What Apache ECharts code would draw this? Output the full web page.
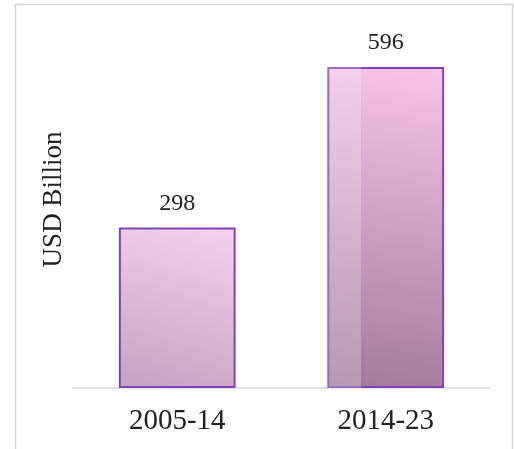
<!DOCTYPE html>
<html>
<head>
<meta charset="utf-8">
<script src="https://cdn.jsdelivr.net/npm/echarts@6/dist/echarts.min.js"></script>
<style>
  html, body { margin: 0; padding: 0; background: #fff; }
  #chart { width: 514px; height: 449px; }
</style>
</head>
<body>
<div id="chart"></div>
<script>
// data
var periods = ["2005-14", "2014-23"];
var investment = [298, 596];
var unitName = "USD Billion";

(function () {
    var myChart = echarts.init(document.getElementById("chart"));
    var serif = "'Liberation Serif', 'Times New Roman', serif";

    // bar bodies: light pink at top right, mauve at bottom left
    var barTop = ["#f3d0ec", "#f6c4e7"];
    var barBottom = ["#c9a3c3", "#a47b9a"];
    function barFill(i) {
        return new echarts.graphic.LinearGradient(0.7, 0, 0.3, 1, [
            { offset: 0, color: barTop[i] },
            { offset: 1, color: barBottom[i] }
        ]);
    }
    // lighter strip on the left of the second bar
    var stripFill = new echarts.graphic.LinearGradient(0, 0, 1, 0, [
        { offset: 0, color: "rgba(255,255,255,0.22)" },
        { offset: 0.29, color: "rgba(255,255,255,0.22)" },
        { offset: 0.29, color: "rgba(255,255,255,0)" },
        { offset: 1, color: "rgba(255,255,255,0)" }
    ]);

    var option = {
        backgroundColor: "#fff",
        animation: false,
        grid: {
            left: 73,
            right: 24,
            top: 11,
            bottom: 61,
            containLabel: false
        },
        // outer frame of the chart area
        graphic: [{
            type: "rect",
            shape: { x: 15.5, y: 4.5, width: 497, height: 460 },
            style: { fill: "none", stroke: "#d4d4d4", lineWidth: 1.5 },
            silent: true
        }],
        xAxis: {
            type: "category",
            data: periods,
            axisTick: { show: false },
            axisLine: { lineStyle: { color: "#d9d9d9", width: 1.5 } },
            axisLabel: {
                color: "#222",
                fontFamily: serif,
                fontSize: 29,
                margin: 19
            }
        },
        yAxis: {
            type: "value",
            min: 0,
            max: 700,
            name: unitName,
            nameLocation: "middle",
            nameGap: 6,
            nameTextStyle: {
                color: "#222",
                fontFamily: serif,
                fontSize: 27
            },
            axisLine: { show: false },
            axisTick: { show: false },
            axisLabel: { show: false },
            splitLine: { show: false }
        },
        series: [
            {
                name: unitName,
                type: "bar",
                barWidth: "56%",
                data: investment.map(function (v, i) {
                    return { value: v, itemStyle: { color: barFill(i) } };
                }),
                itemStyle: {
                    borderColor: "#7f45b8",
                    borderWidth: 2
                },
                label: {
                    show: true,
                    position: "top",
                    distance: 12,
                    color: "#222",
                    fontFamily: serif,
                    fontSize: 24
                }
            },
            {
                name: "strip",
                type: "bar",
                barWidth: "56%",
                barGap: "-100%",
                silent: true,
                data: investment.map(function (v, i) {
                    return {
                        value: v,
                        itemStyle: { color: i === 1 ? stripFill : "rgba(0,0,0,0)" }
                    };
                })
            }
        ]
    };
    myChart.setOption(option);
    window.addEventListener("resize", function () {
        myChart.resize();
    });
})();
</script>
</body>
</html>
